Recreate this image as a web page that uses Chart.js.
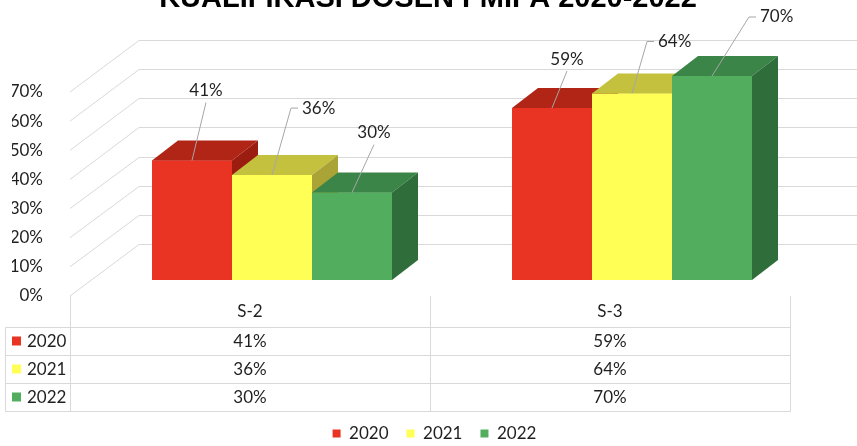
<!DOCTYPE html>
<html>
<head>
<meta charset="utf-8">
<script src="https://cdn.jsdelivr.net/npm/chart.js@4.4.1/dist/chart.umd.min.js"></script>
<style>
html,body{margin:0;padding:0;background:#ffffff;}
#wrap{width:857px;height:446px;position:relative;overflow:hidden;}
</style>
</head>
<body>
<div id="wrap"><canvas id="c"></canvas></div>
<script>
// ---------- data ----------
const chartTitle = 'KUALIFIKASI DOSEN FMIPA 2020-2022';
const categories = ['S-2', 'S-3'];
const seriesNames = ['2020', '2021', '2022'];
const values2020 = [41, 59];
const values2021 = [36, 64];
const values2022 = [30, 70];
const yTickValues = [0, 10, 20, 30, 40, 50, 60, 70];

// ---------- styles ----------
const FONT = 'Lato, "Open Sans", sans-serif';
const TEXT = '#1f1f1f';
const GRID = '#D9D9D9';
const frontColors = ['#E93424', '#FFFF55', '#52AE5E'];
const topColors   = ['#B12517', '#C4C13F', '#3A8547'];
const sideColors  = ['#9A1D10', '#A9A435', '#2F6E3A'];
const DEPTH = {dx: 26, dy: -20};        // bar depth in projection
const FLOOR_FRONT = {dx: -22, dy: 16};  // floor front edge relative to bar front
const WALL_BACK = {dx: 47, dy: -36};    // back wall relative to bar front
// label placement relative to top-front centre of each bar [dataset][category]
const labelPlacement = [
  [{dx: 14, dy: -70, style: 'below'}, {dx: 15, dy: -49, style: 'below'}],
  [{dx: 15, dy: -67, style: 'side'},  {dx: 11, dy: -52, style: 'side'}],
  [{dx: 22, dy: -60, style: 'below'}, {dx: 33, dy: -59, style: 'side'}]
];

const seriesValues = [values2020, values2021, values2022];

function poly(ctx, pts, fill) {
  ctx.beginPath();
  ctx.moveTo(pts[0][0], pts[0][1]);
  for (let i = 1; i < pts.length; i++) ctx.lineTo(pts[i][0], pts[i][1]);
  ctx.closePath();
  ctx.fillStyle = fill;
  ctx.fill();
}
function line(ctx, x1, y1, x2, y2, color) {
  ctx.beginPath();
  ctx.moveTo(x1, y1);
  ctx.lineTo(x2, y2);
  ctx.strokeStyle = color;
  ctx.lineWidth = 1;
  ctx.stroke();
}

const threeD = {
  id: 'threeD',
  beforeDatasetsDraw(chart) {
    const ctx = chart.ctx;
    const xs = chart.scales.x, ys = chart.scales.y;
    ctx.save();
    // back wall gridlines + left wall diagonals
    yTickValues.forEach(v => {
      const yp = ys.getPixelForValue(v);
      const yb = Math.round(yp + WALL_BACK.dy) + 0.5;
      const xb = xs.left + WALL_BACK.dx;
      line(ctx, xb, yb, chart.width, yb, GRID);
      line(ctx, xs.left + FLOOR_FRONT.dx, yp + FLOOR_FRONT.dy, xb, yb, GRID);
    });
    ctx.restore();
  },
  afterDatasetsDraw(chart) {
    const ctx = chart.ctx;
    ctx.save();
    // solid 3D boxes, painted left series first so the right neighbour hides the shared side
    chart.data.datasets.forEach((ds, di) => {
      const meta = chart.getDatasetMeta(di);
      meta.data.forEach(bar => {
        const p = bar.getProps(['x', 'y', 'base', 'width'], true);
        const l = p.x - p.width / 2, r = p.x + p.width / 2, t = p.y, b = p.base;
        poly(ctx, [[l, t], [r, t], [r, b], [l, b]], frontColors[di]);
        poly(ctx, [[l, t], [r, t], [r + DEPTH.dx, t + DEPTH.dy], [l + DEPTH.dx, t + DEPTH.dy]], topColors[di]);
        poly(ctx, [[r, t], [r + DEPTH.dx, t + DEPTH.dy], [r + DEPTH.dx, b + DEPTH.dy], [r, b]], sideColors[di]);
      });
    });
    // data labels with leader lines
    ctx.font = '17px ' + FONT;
    ctx.fillStyle = TEXT;
    chart.data.datasets.forEach((ds, di) => {
      const meta = chart.getDatasetMeta(di);
      meta.data.forEach((bar, ci) => {
        const p = bar.getProps(['x', 'y'], true);
        const pl = labelPlacement[di][ci];
        const txt = ds.data[ci] + '%';
        const ty = p.y + pl.dy;
        if (pl.style === 'below') {
          const tx = p.x + pl.dx;
          line(ctx, p.x, p.y, tx, ty + 12, '#A6A6A6');
          ctx.textAlign = 'center';
          ctx.textBaseline = 'middle';
          ctx.fillText(txt, tx, ty);
        } else {
          const tl = p.x + pl.dx + 15;
          line(ctx, p.x, p.y, tl - 11, ty, '#A6A6A6');
          line(ctx, tl - 11, ty, tl - 4, ty, '#A6A6A6');
          ctx.textAlign = 'left';
          ctx.textBaseline = 'middle';
          ctx.fillText(txt, tl, ty);
        }
      });
    });
    ctx.restore();
  },
  afterDraw(chart) {
    const ctx = chart.ctx;
    const xs = chart.scales.x, ys = chart.scales.y;
    ctx.save();
    // title (top part cut off as in the reference)
    ctx.font = 'bold 29px "Liberation Sans", Arial, sans-serif';
    ctx.fillStyle = '#000000';
    ctx.textAlign = 'center';
    ctx.textBaseline = 'alphabetic';
    ctx.fillText(chartTitle, 428, 7);

    // data table
    const floorY = ys.getPixelForValue(0) + FLOOR_FRONT.dy;
    const tL = xs.left + FLOOR_FRONT.dx;
    const tR = xs.right + FLOOR_FRONT.dx;
    const colW = (tR - tL) / categories.length;
    const outerL = 5.5;
    const rowH = 28;
    const rowsTop = Math.round(floorY + 31) + 0.5;
    const nRows = seriesNames.length;
    const bottom = rowsTop + rowH * nRows;
    for (let i = 0; i <= nRows; i++) {
      line(ctx, outerL, rowsTop + i * rowH, Math.round(tR) + 0.5, rowsTop + i * rowH, GRID);
    }
    line(ctx, outerL, rowsTop, outerL, bottom, GRID);
    for (let c = 0; c <= categories.length; c++) {
      const xv = Math.round(tL + c * colW) + 0.5;
      line(ctx, xv, floorY, xv, bottom, GRID);
    }
    ctx.font = '17px ' + FONT;
    ctx.fillStyle = TEXT;
    ctx.textBaseline = 'middle';
    ctx.textAlign = 'center';
    categories.forEach((cat, c) => {
      ctx.fillText(cat, tL + (c + 0.5) * colW, floorY + 16);
    });
    seriesNames.forEach((s, r) => {
      const cy = rowsTop + (r + 0.5) * rowH;
      ctx.fillStyle = frontColors[r];
      ctx.fillRect(12, cy - 5, 9, 9);
      ctx.fillStyle = TEXT;
      ctx.textAlign = 'left';
      ctx.fillText(s, 27, cy);
      ctx.textAlign = 'center';
      seriesValues[r].forEach((v, c) => {
        ctx.fillText(v + '%', tL + (c + 0.5) * colW, cy);
      });
    });
    ctx.restore();
  }
};

const datasets = seriesNames.map((name, i) => ({
  label: name,
  data: seriesValues[i],
  backgroundColor: frontColors[i],
  borderWidth: 0,
  barPercentage: 1.0,
  categoryPercentage: 0.6667
}));

new Chart(document.getElementById('c'), {
  type: 'bar',
  data: {labels: categories, datasets: datasets},
  plugins: [threeD],
  options: {
    responsive: true,
    maintainAspectRatio: false,
    animation: false,
    layout: {padding: {top: 76, right: 0, bottom: -6, left: 12}},
    plugins: {
      tooltip: {enabled: false},
      title: {display: false},
      legend: {
        display: true,
        position: 'bottom',
        labels: {
          boxWidth: 8,
          boxHeight: 8,
          padding: 18,
          color: TEXT,
          font: {family: FONT, size: 17}
        }
      }
    },
    scales: {
      x: {
        display: true,
        grid: {display: false},
        border: {display: false},
        ticks: {display: false},
        afterFit: (s) => { s.height = 127; }
      },
      y: {
        min: 0,
        max: 70,
        grid: {display: false},
        border: {display: false},
        afterFit: (s) => { s.width = 80; },
        afterBuildTicks: (s) => { s.ticks = yTickValues.map(v => ({value: v})); },
        ticks: {
          padding: 41,
          labelOffset: 16,
          color: TEXT,
          font: {family: FONT, size: 17},
          callback: (v) => v + '%'
        }
      },
      yRight: {
        position: 'right',
        min: 0,
        max: 70,
        grid: {display: false},
        border: {display: false},
        ticks: {display: false},
        afterFit: (s) => { s.width = 45; }
      }
    }
  }
});
</script>
</body>
</html>
